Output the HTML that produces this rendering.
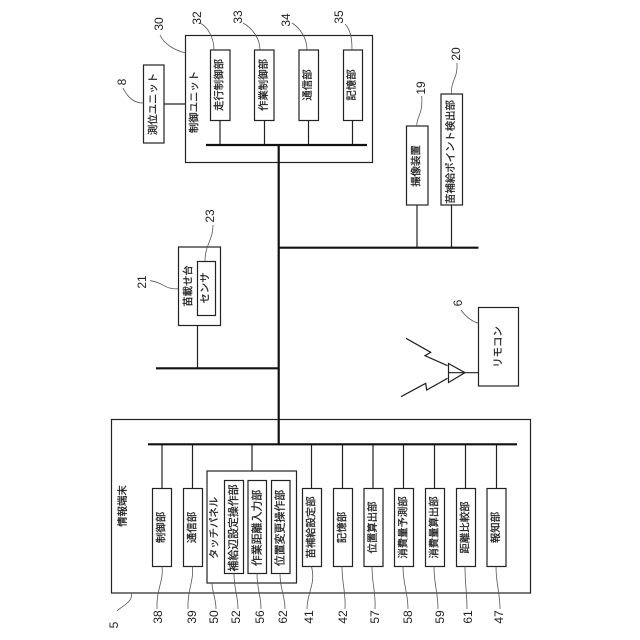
<!DOCTYPE html>
<html lang="ja"><head><meta charset="utf-8"><title>Diagram</title>
<style>
html,body{margin:0;padding:0;background:#fff}
svg{display:block}
.b rect{fill:#fff;stroke:#222;stroke-width:1.2}
.l path{fill:none;stroke:#222;stroke-width:1.2}
.t path{fill:none;stroke:#111;stroke-width:2.2}
.c path{fill:none;stroke:#555;stroke-width:.8}
text{fill:#222;text-anchor:middle;dominant-baseline:central}
.j text{font:10.4px "Liberation Sans","Noto Sans CJK JP",sans-serif;stroke:#222;stroke-width:.25}
.j text.w{font-size:10.9px}
.n text{font:12px "Liberation Sans",sans-serif}
</style></head><body>
<svg width="640" height="640" viewBox="0 0 640 640" xmlns="http://www.w3.org/2000/svg">
<g class="b">
<rect x="185.5" y="35.5" width="187" height="127"/>
<rect x="210.5" y="50" width="19.5" height="70.5"/>
<rect x="254.5" y="50" width="19.5" height="70.5"/>
<rect x="299" y="50" width="19.5" height="70.5"/>
<rect x="343.5" y="50" width="19" height="70.5"/>
<rect x="143.5" y="65" width="20.5" height="78"/>
<rect x="111.5" y="419.5" width="419" height="173.5"/>
<rect x="152.5" y="488.5" width="19" height="78"/>
<rect x="183.5" y="488.5" width="19" height="78"/>
<rect x="207" y="471" width="89.5" height="112"/>
<rect x="224.5" y="480.5" width="19" height="93"/>
<rect x="248" y="480.5" width="18.5" height="93"/>
<rect x="271.5" y="480.5" width="18.5" height="93"/>
<rect x="302.5" y="488.5" width="19" height="78"/>
<rect x="333.5" y="488.5" width="19" height="78"/>
<rect x="364" y="488.5" width="19" height="78"/>
<rect x="394.5" y="488.5" width="19" height="78"/>
<rect x="425.5" y="488.5" width="19" height="78"/>
<rect x="456.5" y="488.5" width="19" height="78"/>
<rect x="487" y="488.5" width="19" height="78"/>
<rect x="178.5" y="247" width="42" height="78.5"/>
<rect x="197.5" y="261.5" width="18" height="54"/>
<rect x="406.5" y="126" width="21.5" height="79"/>
<rect x="441" y="94" width="21.5" height="111"/>
<rect x="478.5" y="307.5" width="40" height="78.5"/>
</g>
<g class="l">
<path d="M220 120.5V145M264.5 120.5V145M308.5 120.5V145M352.5 120.5V145M164 104H185.5"/>
<path d="M162 444V488.5M192.5 444V488.5M252 444V471M311.5 444V488.5M342.5 444V488.5M373 444V488.5M403.5 444V488.5M434.5 444V488.5M465.5 444V488.5M496.5 444V488.5"/>
<path d="M197.5 325.5V368M417 205V247.5M451.5 205V247.5"/>
<path d="M448.5 363.5L465 372.7L448.5 382.5ZM448.5 372.7H478.5"/>
<path d="M406 338.3L430.7 352.3L425 355.7L447.5 365.7M401 396.7L425.7 383.3L426.7 390L447.5 378.3"/>
</g>
<g class="t">
<path d="M206 145H367M278.7 145V444.5M148 444.3H517M156 368.3H278.7M278.7 247.7H478.5"/>
</g>
<g class="c">
<path d="M123 88C128 98 134 103 143.5 103"/>
<path d="M160 35C164 44 174 50 185.5 53"/>
<path d="M200 23C208 27 214 38 214 50"/>
<path d="M243 23C252 28 260 38 260 50"/>
<path d="M292 23C300 28 307 38 307 50"/>
<path d="M345 24C351 30 352 40 352 50"/>
<path d="M162 566.5C164 580 156 590 157 609"/>
<path d="M192.5 566.5C194 580 187 592 188 609"/>
<path d="M212 583C212 592 216 598 216 609"/>
<path d="M234 573.5C234 590 238 595 238 609"/>
<path d="M257 573.5C257 590 261 595 261 609"/>
<path d="M280 573.5C280 590 285 595 285 609"/>
<path d="M311.5 566.5C316 585 307 592 307 609"/>
<path d="M342 566.5C342 585 346 592 345 609"/>
<path d="M372 566.5C372 585 376 592 375 609"/>
<path d="M403 566.5C403 585 408 592 408 609"/>
<path d="M434 566.5C434 585 438 592 438 609"/>
<path d="M465 566.5C465 585 467 592 467 609"/>
<path d="M496 566.5C496 585 500 592 500 609"/>
<path d="M131.5 593C133 602 122 606 117 611"/>
<path d="M178.5 288.7C165 290 163 282 150 280.7"/>
<path d="M205 261C205 245 213 240 213 225"/>
<path d="M416.7 126C417 115 423 115 421.7 96"/>
<path d="M451.3 94C451 80 458 78 457 63"/>
<path d="M461 310C466 317 471 321 478.5 323.3"/>
</g>
<g class="n">
<text transform="translate(122,82) rotate(-90)">8</text>
<text transform="translate(159,24) rotate(-90)">30</text>
<text transform="translate(197,18) rotate(-90)">32</text>
<text transform="translate(238,17) rotate(-90)">33</text>
<text transform="translate(286,20) rotate(-90)">34</text>
<text transform="translate(339,17) rotate(-90)">35</text>
<text transform="translate(158,617) rotate(-90)">38</text>
<text transform="translate(192,617) rotate(-90)">39</text>
<text transform="translate(214,617) rotate(-90)">50</text>
<text transform="translate(236,617) rotate(-90)">52</text>
<text transform="translate(260,617) rotate(-90)">56</text>
<text transform="translate(283,617) rotate(-90)">62</text>
<text transform="translate(309,617) rotate(-90)">41</text>
<text transform="translate(343,617) rotate(-90)">42</text>
<text transform="translate(375,617) rotate(-90)">57</text>
<text transform="translate(408,617) rotate(-90)">58</text>
<text transform="translate(440,617) rotate(-90)">59</text>
<text transform="translate(468,617) rotate(-90)">61</text>
<text transform="translate(499,617) rotate(-90)">47</text>
<text transform="translate(114,625) rotate(-90)">5</text>
<text transform="translate(142,282) rotate(-90)">21</text>
<text transform="translate(210,216) rotate(-90)">23</text>
<text transform="translate(421,88) rotate(-90)">19</text>
<text transform="translate(456,54) rotate(-90)">20</text>
<text transform="translate(458,303) rotate(-90)">6</text>
</g>
<g class="j">
<text transform="translate(220,85) rotate(-90)">走行制御部</text>
<text transform="translate(264.5,85) rotate(-90)">作業制御部</text>
<text transform="translate(308.5,85) rotate(-90)">通信部</text>
<text transform="translate(352.5,85) rotate(-90)">記憶部</text>
<text transform="translate(195,102) rotate(-90)">制御ユニット</text>
<text transform="translate(154,104) rotate(-90)">測位ユニット</text>
<text transform="translate(123.5,506) rotate(-90)">情報端末</text>
<text transform="translate(162,527.5) rotate(-90)">制御部</text>
<text transform="translate(193,527.5) rotate(-90)">通信部</text>
<text transform="translate(215,528) rotate(-90)">タッチパネル</text>
<text class="w" transform="translate(234,528) rotate(-90)">補給辺設定操作部</text>
<text class="w" transform="translate(257.5,528) rotate(-90)">作業距離入力部</text>
<text class="w" transform="translate(280.5,528) rotate(-90)">位置変更操作部</text>
<text transform="translate(312,527.5) rotate(-90)">苗補給設定部</text>
<text transform="translate(343,527.5) rotate(-90)">記憶部</text>
<text transform="translate(373.5,527.5) rotate(-90)">位置算出部</text>
<text transform="translate(404,527.5) rotate(-90)">消費量予測部</text>
<text transform="translate(435,527.5) rotate(-90)">消費量算出部</text>
<text transform="translate(466,527.5) rotate(-90)">距離比較部</text>
<text transform="translate(496.5,527.5) rotate(-90)">報知部</text>
<text transform="translate(189,286) rotate(-90)">苗載せ台</text>
<text transform="translate(206,288) rotate(-90)">センサ</text>
<text transform="translate(417,166) rotate(-90)">撮像装置</text>
<text transform="translate(451.5,152) rotate(-90)">苗補給ポイント検出部</text>
<text transform="translate(499,347) rotate(-90)">リモコン</text>
</g>
</svg>
</body></html>
